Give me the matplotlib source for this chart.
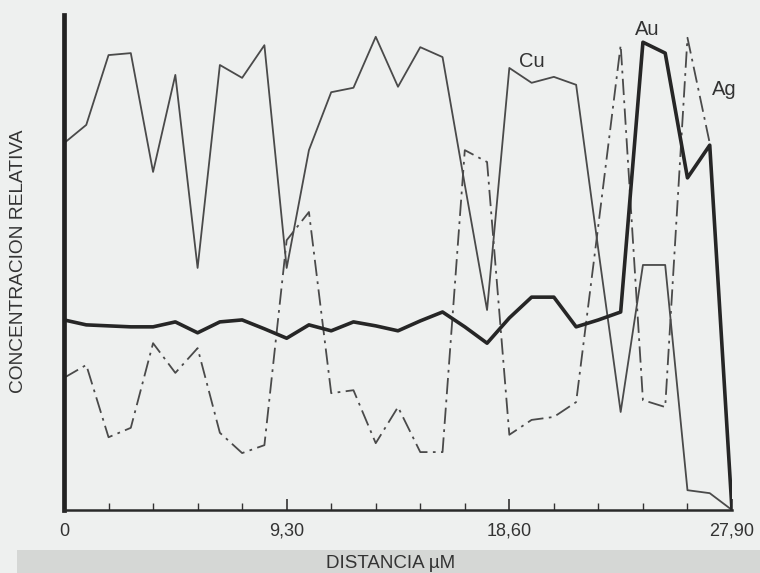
import numpy as np
import matplotlib
matplotlib.use('Agg')
import matplotlib.pyplot as plt
from matplotlib.patches import Rectangle

plt.rcParams['font.family'] = ['Liberation Sans', 'DejaVu Sans']

# distance axis: 31 points, 0.93 um apart
dist = np.arange(31) * 0.93

cu = [74.1, 77.8, 91.9, 92.3, 68.3, 87.9, 48.9, 89.9, 87.3, 93.9,
      48.9, 72.7, 84.4, 85.3, 95.6, 85.5, 93.5, 91.5, 65.7, 40.4,
      89.3, 86.3, 87.5, 85.9, 52.5, 19.8, 49.5, 49.5, 4.0, 3.4, 0.0]
au = [38.4, 37.4, 37.2, 37.0, 37.0, 38.0, 35.8, 38.0, 38.4, 36.6,
      34.7, 37.4, 36.2, 38.0, 37.2, 36.2, 38.2, 40.0, 37.0, 33.7,
      38.8, 43.0, 43.0, 37.0, 38.4, 40.0, 94.5, 92.3, 67.1, 73.7, 0.0]
ag = [26.7, 29.3, 14.7, 16.6, 33.7, 27.7, 32.7, 15.6, 11.5, 13.1,
      54.5, 60.2, 23.6, 24.2, 13.5, 20.8, 11.7, 11.7, 72.7, 70.3,
      15.2, 18.2, 18.8, 21.8, 57.6, 93.9, 22.2, 20.8, 95.4, 74.1, 0.0]

xticks = [0, 9.30, 18.60, 27.90]
xticklabels = ['0', '9,30', '18,60', '27,90']

bg = '#eef0ef'
ink = '#333333'

f = plt.figure(figsize=(7.6, 5.73), dpi=100, facecolor=bg)
# grey band behind the x label
f.patches.append(Rectangle((17/760, 0), 1 - 17/760, 23/573, transform=f.transFigure,
                           facecolor='#d5d7d5', edgecolor='none', zorder=0))

ax = f.add_axes([64/760, 63/573, 668/760, 495/573])
ax.set_facecolor(bg)

ax.plot(dist, cu, color='#4a4a4a', linewidth=1.3)
ax.plot(dist, ag, color='#4a4a4a', linewidth=1.3, linestyle=(0, (9, 3, 1.5, 3)))
ax.plot(dist, au, color='#262626', linewidth=2.6)

ax.text(19.0, 89.5, 'Cu', fontsize=14.5, color=ink)
ax.text(23.85, 96.0, 'Au', fontsize=14.5, color=ink)
ax.text(27.05, 83.8, 'Ag', fontsize=14.5, color=ink)

ax.set_xlim(0, 27.9)
ax.set_ylim(0, 100)
for s in ['top', 'right']:
    ax.spines[s].set_visible(False)
ax.spines['left'].set_linewidth(3.4)
ax.spines['left'].set_color('#222222')
ax.spines['bottom'].set_linewidth(1.8)
ax.spines['bottom'].set_color('#2a2a2a')

ax.set_yticks([])
ax.set_xticks(xticks)
ax.set_xticklabels(xticklabels, fontsize=13, color=ink)
ax.set_xticks(np.arange(0, 27.95, 1.86), minor=True)
ax.tick_params(axis='x', which='major', direction='in', length=8, width=1.2, color=ink, pad=9)
ax.tick_params(axis='x', which='minor', direction='in', length=5, width=1.0, color=ink)

f.text(19/760, 1 - 261/573, 'CONCENTRACION RELATIVA', rotation=90, ha='center', va='center',
       fontsize=13.8, color=ink)
f.text(391/760, 1 - 564/573, 'DISTANCIA \u00b5M', ha='center', va='center', fontsize=13.5, color=ink)

plt.savefig('out.png', dpi=100, facecolor=bg)
